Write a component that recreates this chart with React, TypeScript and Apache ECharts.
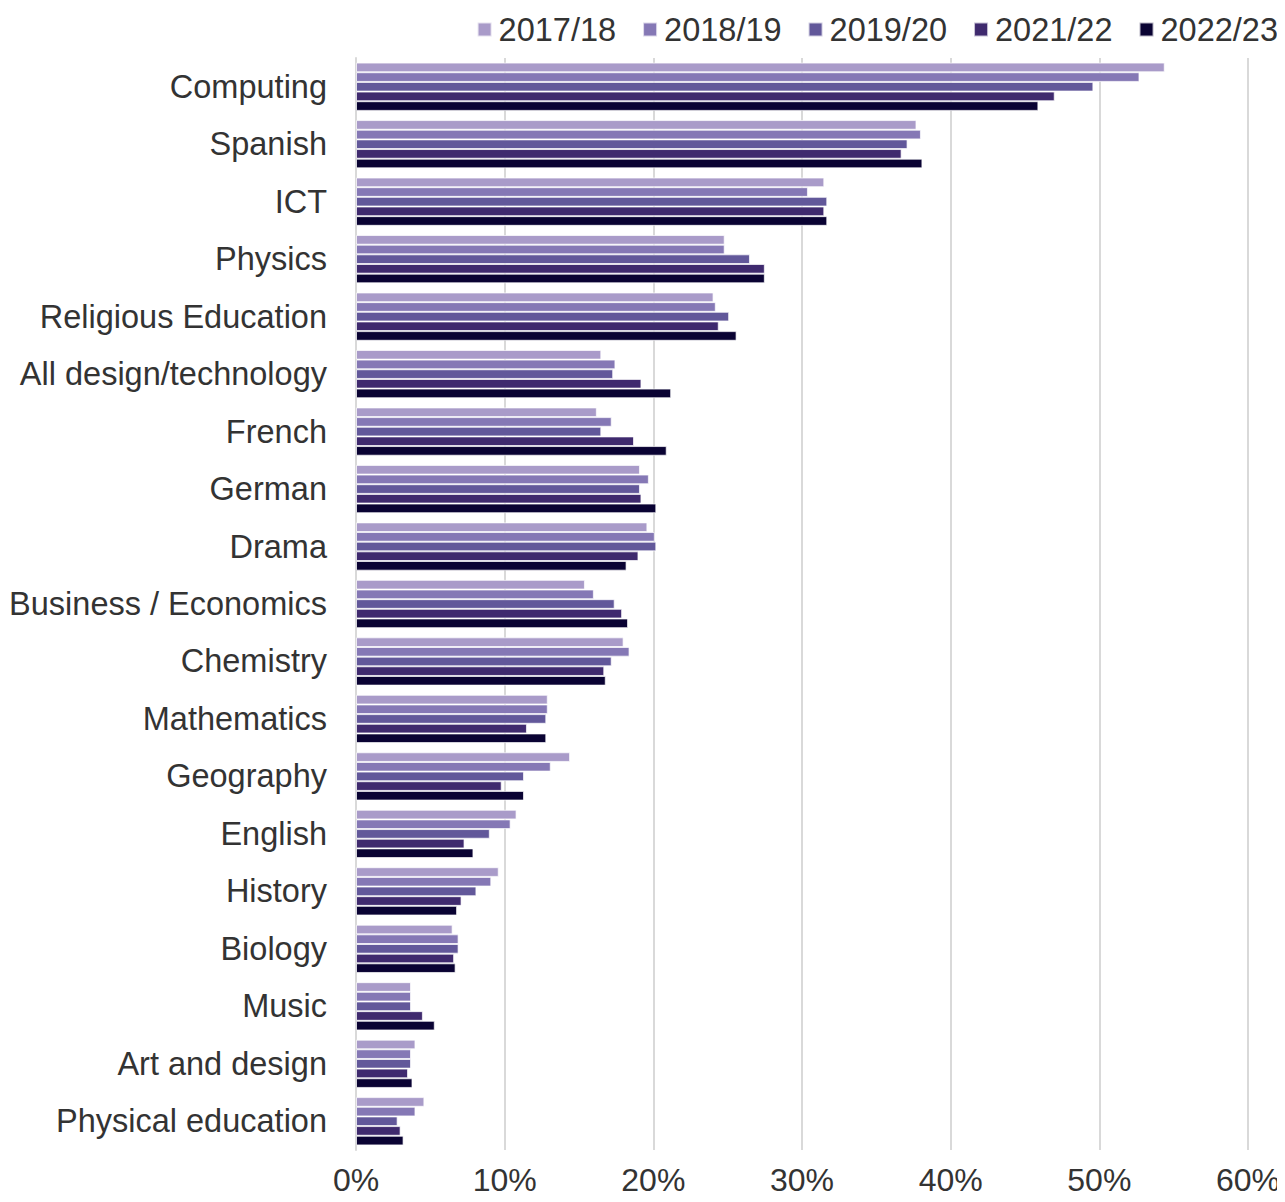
import React, { useEffect, useRef } from "react";
import * as echarts from "echarts";

const categories = [
  "Computing",
  "Spanish",
  "ICT",
  "Physics",
  "Religious Education",
  "All design/technology",
  "French",
  "German",
  "Drama",
  "Business / Economics",
  "Chemistry",
  "Mathematics",
  "Geography",
  "English",
  "History",
  "Biology",
  "Music",
  "Art and design",
  "Physical education",
];

const seriesNames = ["2017/18", "2018/19", "2019/20", "2021/22", "2022/23"];

const v2017 = [54.4, 37.7, 31.5, 24.8, 24.05, 16.5, 16.2, 19.1, 19.6, 15.4, 18.0, 12.9, 14.4, 10.8, 9.6, 6.5, 3.7, 4.0, 4.6];
const v2018 = [52.7, 38.0, 30.4, 24.8, 24.2, 17.45, 17.2, 19.7, 20.1, 16.0, 18.4, 12.9, 13.1, 10.4, 9.1, 6.9, 3.7, 3.7, 4.0];
const v2019 = [49.6, 37.1, 31.7, 26.5, 25.1, 17.3, 16.5, 19.1, 20.2, 17.4, 17.2, 12.8, 11.3, 9.0, 8.1, 6.9, 3.7, 3.7, 2.8];
const v2021 = [47.0, 36.7, 31.5, 27.5, 24.4, 19.2, 18.7, 19.2, 19.0, 17.9, 16.7, 11.5, 9.8, 7.3, 7.1, 6.6, 4.5, 3.5, 3.0];
const v2022 = [45.9, 38.1, 31.7, 27.5, 25.6, 21.2, 20.9, 20.2, 18.2, 18.3, 16.8, 12.8, 11.3, 7.9, 6.8, 6.7, 5.3, 3.8, 3.2];

const seriesValues = [v2017, v2018, v2019, v2021, v2022];
const colors = ["#A99BC9", "#8578B5", "#62589A", "#3F2A6E", "#0A0333"];

const xTicks = { min: 0, max: 60, interval: 10 };

export default function App() {
  const ref = useRef<HTMLDivElement>(null);

  useEffect(() => {
    if (!ref.current) return;
    const chart = echarts.init(ref.current, null, { renderer: "svg" });
    const font = "'Liberation Sans', Arial, sans-serif";
    chart.setOption({
      animation: false,
      textStyle: { fontFamily: font },
      legend: {
        top: 8,
        right: 2,
        itemWidth: 14,
        itemHeight: 14,
        itemGap: 26,
        icon: "rect",
        textStyle: { fontSize: 32.5, color: "#333", fontFamily: font, padding: [0, 0, 0, 2] },
        data: seriesNames,
      },
      grid: { left: 356, right: 37, top: 58, bottom: 52, containLabel: false },
      xAxis: {
        type: "value",
        min: xTicks.min,
        max: xTicks.max,
        interval: xTicks.interval,
        axisLine: { show: false },
        axisTick: { show: false },
        splitLine: { show: true, lineStyle: { color: "#d9d9d9", width: 2 } },
        axisLabel: {
          formatter: "{value}%",
          fontSize: 32,
          color: "#333",
          margin: 14,
          fontFamily: font,
        },
      },
      yAxis: {
        type: "category",
        data: categories,
        inverse: true,
        axisLine: { show: true, lineStyle: { color: "#d9d9d9", width: 2 } },
        axisTick: { show: false },
        axisLabel: { fontSize: 32.5, color: "#333", margin: 29, fontFamily: font },
      },
      series: seriesNames.map((name, i) => ({
        name,
        type: "bar",
        data: seriesValues[i],
        barGap: "0%",
        barCategoryGap: "16%",
        itemStyle: {
          color: colors[i],
          borderColor: "rgba(255,255,255,0.7)",
          borderWidth: 1,
        },
      })),
    });
    return () => chart.dispose();
  }, []);

  return <div ref={ref} style={{ width: 1285, height: 1202, margin: -8 }} />;
}
